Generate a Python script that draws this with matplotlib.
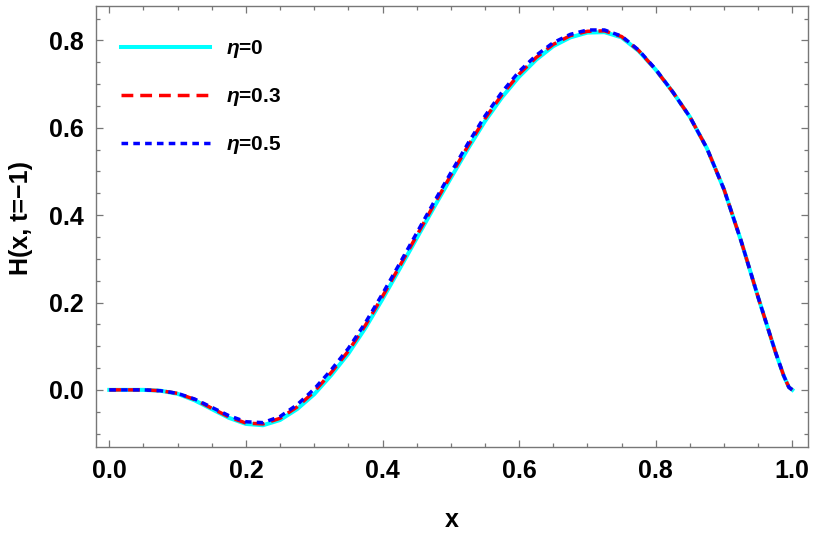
import numpy as np
import matplotlib
matplotlib.use("Agg")
import matplotlib.pyplot as plt
from matplotlib.ticker import MultipleLocator, FormatStrFormatter

plt.rcParams['font.family'] = ['Liberation Sans', 'DejaVu Sans']
plt.rcParams['mathtext.fontset'] = 'custom'
plt.rcParams['mathtext.it'] = 'Liberation Sans:italic:bold'
plt.rcParams['mathtext.rm'] = 'Liberation Sans:bold'

# sample positions
x = [0.0, 0.025, 0.05, 0.075, 0.1, 0.125, 0.15, 0.175, 0.2, 0.225,
     0.25, 0.275, 0.3, 0.325, 0.35, 0.375, 0.4, 0.425, 0.45, 0.475,
     0.5, 0.525, 0.55, 0.575, 0.6, 0.625, 0.65, 0.675, 0.7, 0.725,
     0.75, 0.775, 0.8, 0.825, 0.85, 0.875, 0.9, 0.925, 0.95, 0.975,
     0.9875, 0.995, 1.0]

h_eta0 = [0.0, 0.0, 0.0, -0.002, -0.009, -0.024, -0.044, -0.064, -0.078, -0.081,
          -0.069, -0.044, -0.010, 0.034, 0.083, 0.142, 0.208, 0.277, 0.347, 0.417,
          0.485, 0.552, 0.615, 0.670, 0.717, 0.756, 0.787, 0.807, 0.818, 0.819,
          0.807, 0.776, 0.733, 0.682, 0.625, 0.553, 0.459, 0.341, 0.212, 0.088,
          0.032, 0.006, 0.0]

h_eta03 = [0.0, 0.0, 0.0, -0.002, -0.008, -0.022, -0.042, -0.062, -0.076, -0.078,
           -0.065, -0.039, -0.004, 0.040, 0.089, 0.148, 0.214, 0.283, 0.353, 0.423,
           0.491, 0.558, 0.621, 0.676, 0.723, 0.761, 0.791, 0.811, 0.821, 0.822,
           0.809, 0.777, 0.733, 0.682, 0.625, 0.553, 0.459, 0.341, 0.212, 0.088,
           0.032, 0.006, 0.0]

h_eta05 = [0.0, 0.0, 0.0, -0.002, -0.008, -0.021, -0.040, -0.059, -0.073, -0.075,
           -0.061, -0.034, 0.002, 0.046, 0.095, 0.154, 0.220, 0.289, 0.359, 0.429,
           0.497, 0.564, 0.627, 0.682, 0.729, 0.766, 0.795, 0.814, 0.824, 0.824,
           0.810, 0.778, 0.734, 0.682, 0.625, 0.553, 0.459, 0.341, 0.212, 0.088,
           0.032, 0.006, 0.0]

labels = [r'$\eta$=0', r'$\eta$=0.3', r'$\eta$=0.5']

fig = plt.figure(figsize=(8.17, 5.41), dpi=100)
ax = fig.add_axes([0.1175, 0.174, 0.8715, 0.815])

ax.plot(x, h_eta0, color='cyan', lw=2.9, label=labels[0], zorder=2)
ax.plot(x, h_eta03, color='red', lw=2.5, dashes=(3.4, 2.0), label=labels[1], zorder=3)
ax.plot(x, h_eta05, color='blue', lw=2.5, dashes=(1.9, 1.5), label=labels[2], zorder=4)

ax.set_xlim(-0.0195, 1.023)
ax.set_ylim(-0.1305, 0.879)

ax.xaxis.set_major_locator(MultipleLocator(0.2))
ax.xaxis.set_minor_locator(MultipleLocator(0.05))
ax.yaxis.set_major_locator(MultipleLocator(0.2))
ax.yaxis.set_minor_locator(MultipleLocator(0.05))
ax.xaxis.set_major_formatter(FormatStrFormatter('%.1f'))
ax.yaxis.set_major_formatter(FormatStrFormatter('%.1f'))

frame_col = '#777777'
for s in ax.spines.values():
    s.set_color(frame_col)
    s.set_linewidth(1.0)
ax.tick_params(which='both', direction='in', top=True, right=True,
               color=frame_col, width=0.9)
ax.tick_params(which='major', length=5, labelsize=18, pad=9)
ax.tick_params(which='minor', length=3)
for lab in ax.get_xticklabels() + ax.get_yticklabels():
    lab.set_fontweight('bold')

ax.set_xlabel('x', fontsize=18, fontweight='bold', labelpad=18)
ax.set_ylabel('H(x, t=\u22121)', fontsize=18, fontweight='bold')
ax.yaxis.label.set_fontweight('bold')
ax.yaxis.set_label_coords(-0.088, 0.52)

leg = ax.legend(loc='upper left', frameon=False, fontsize=15,
                handlelength=4.3, handletextpad=0.75, labelspacing=1.25,
                borderaxespad=0.3, bbox_to_anchor=(0.014, 0.96))
for t in leg.get_texts():
    t.set_fontweight('bold')

fig.savefig('out.png', dpi=100)
